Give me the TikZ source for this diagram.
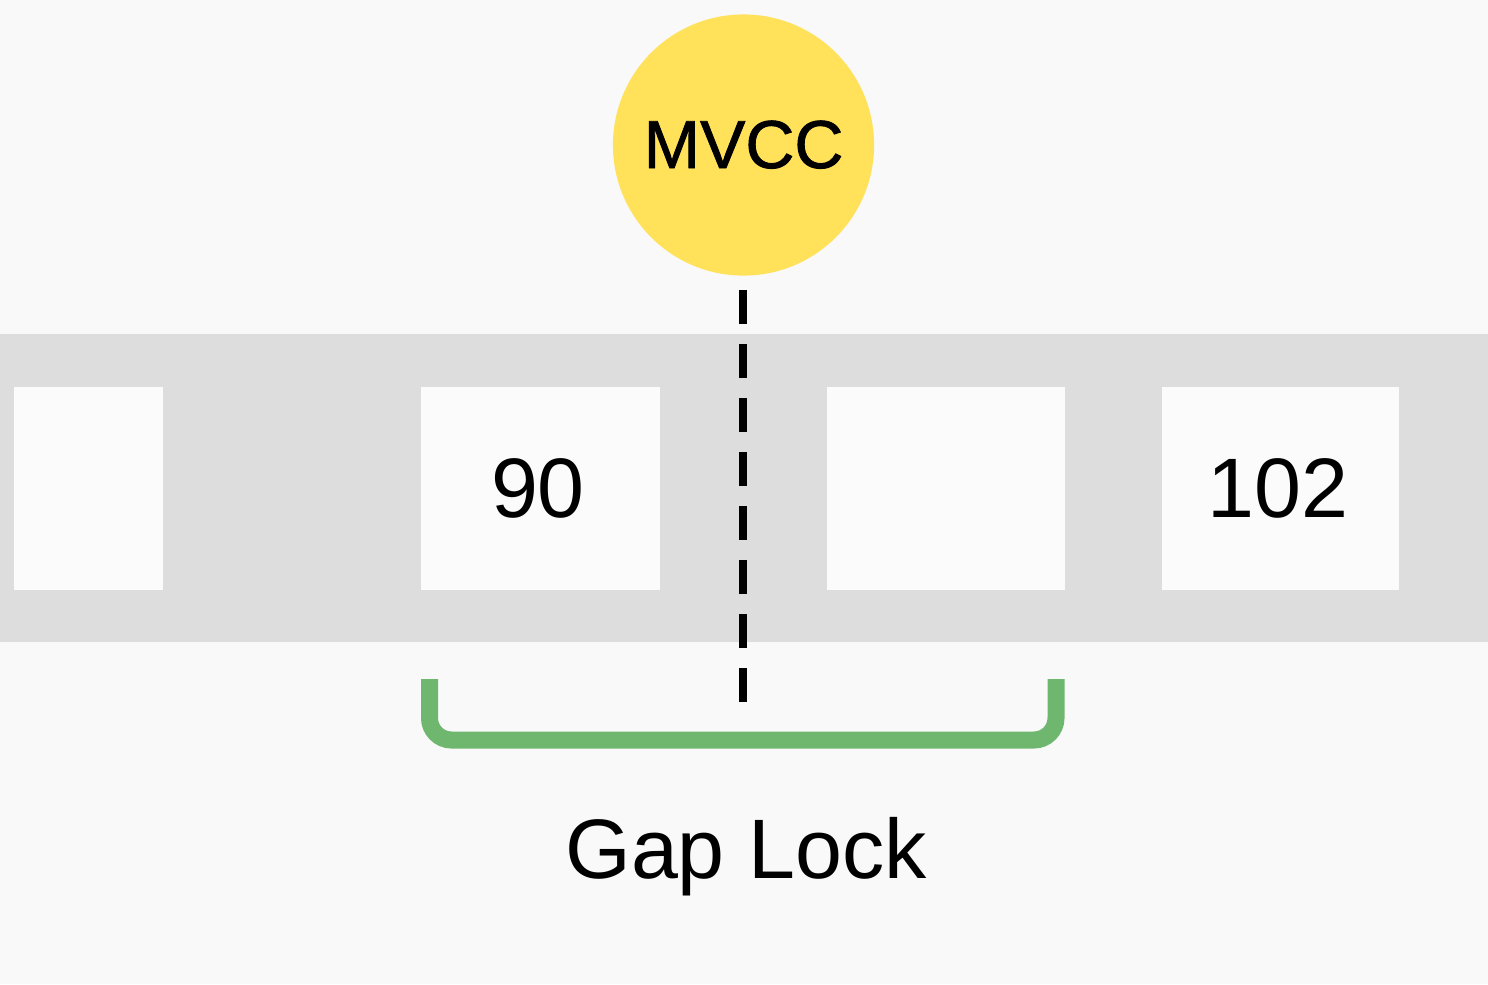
\documentclass[tikz,border=0pt]{standalone}
\usepackage{fontspec}
\setmainfont{Liberation Sans}
\newfontfamily\mvccfont[FakeBold=1.2]{Liberation Sans}
\definecolor{bgcol}{HTML}{F9F9F9}
\definecolor{bandcol}{HTML}{DDDDDD}
\definecolor{boxcol}{HTML}{FBFBFB}
\definecolor{mvccyellow}{HTML}{FFE15A}
\definecolor{lockgreen}{HTML}{6FB76F}
\begin{document}
\begin{tikzpicture}[x=0.01cm,y=-0.01cm,
  cell/.style={fill=boxcol,draw=none,inner sep=0pt,minimum height=2.03cm},
  celltext/.style={font=\fontsize{24}{29}\selectfont,anchor=base,inner sep=0pt},
  dashline/.style={line width=0.08cm,dash pattern=on 0.34cm off 0.20cm},
  bracket/.style={draw=lockgreen,line width=0.17cm,rounded corners=0.22cm}]
\fill[bgcol] (0,0) rectangle (1488,984);
\useasboundingbox (0,0) rectangle (1488,984);
\fill[bandcol] (0,334) rectangle (1488,642);
% cells
\node[cell,minimum width=1.49cm,anchor=north west] (c1) at (13,386) {};
\node[cell,minimum width=2.39cm,anchor=north west] (c2) at (420,386) {};
\node[cell,minimum width=2.38cm,anchor=north west] (c3) at (826,386) {};
\node[cell,minimum width=2.37cm,anchor=north west] (c4) at (1161,386) {};
\node[celltext] (t90) at (538,517) {90};
\node[celltext] (t102) at (1278,517) {102};
% MVCC circle
\node[circle,fill=mvccyellow,minimum size=2.61cm,inner sep=0pt] (mvcc) at (743.5,145) {};
\node[font=\mvccfont\fontsize{19.3}{24}\selectfont,anchor=base,inner sep=0pt] (mvcctext) at (743.5,168) {MVCC};
% dashed line
\coordinate (dtop) at (743,290);
\coordinate (dbot) at (743,702);
\draw[dashline] (dtop) -- (dbot);
% bracket
\coordinate (bl) at (429.5,679);
\coordinate (br) at (1056,679);
\draw[bracket] (bl) |- (742.75,740) -| (br);
\node[celltext] (gap) at (746,878) {Gap Lock};
\end{tikzpicture}
\end{document}
